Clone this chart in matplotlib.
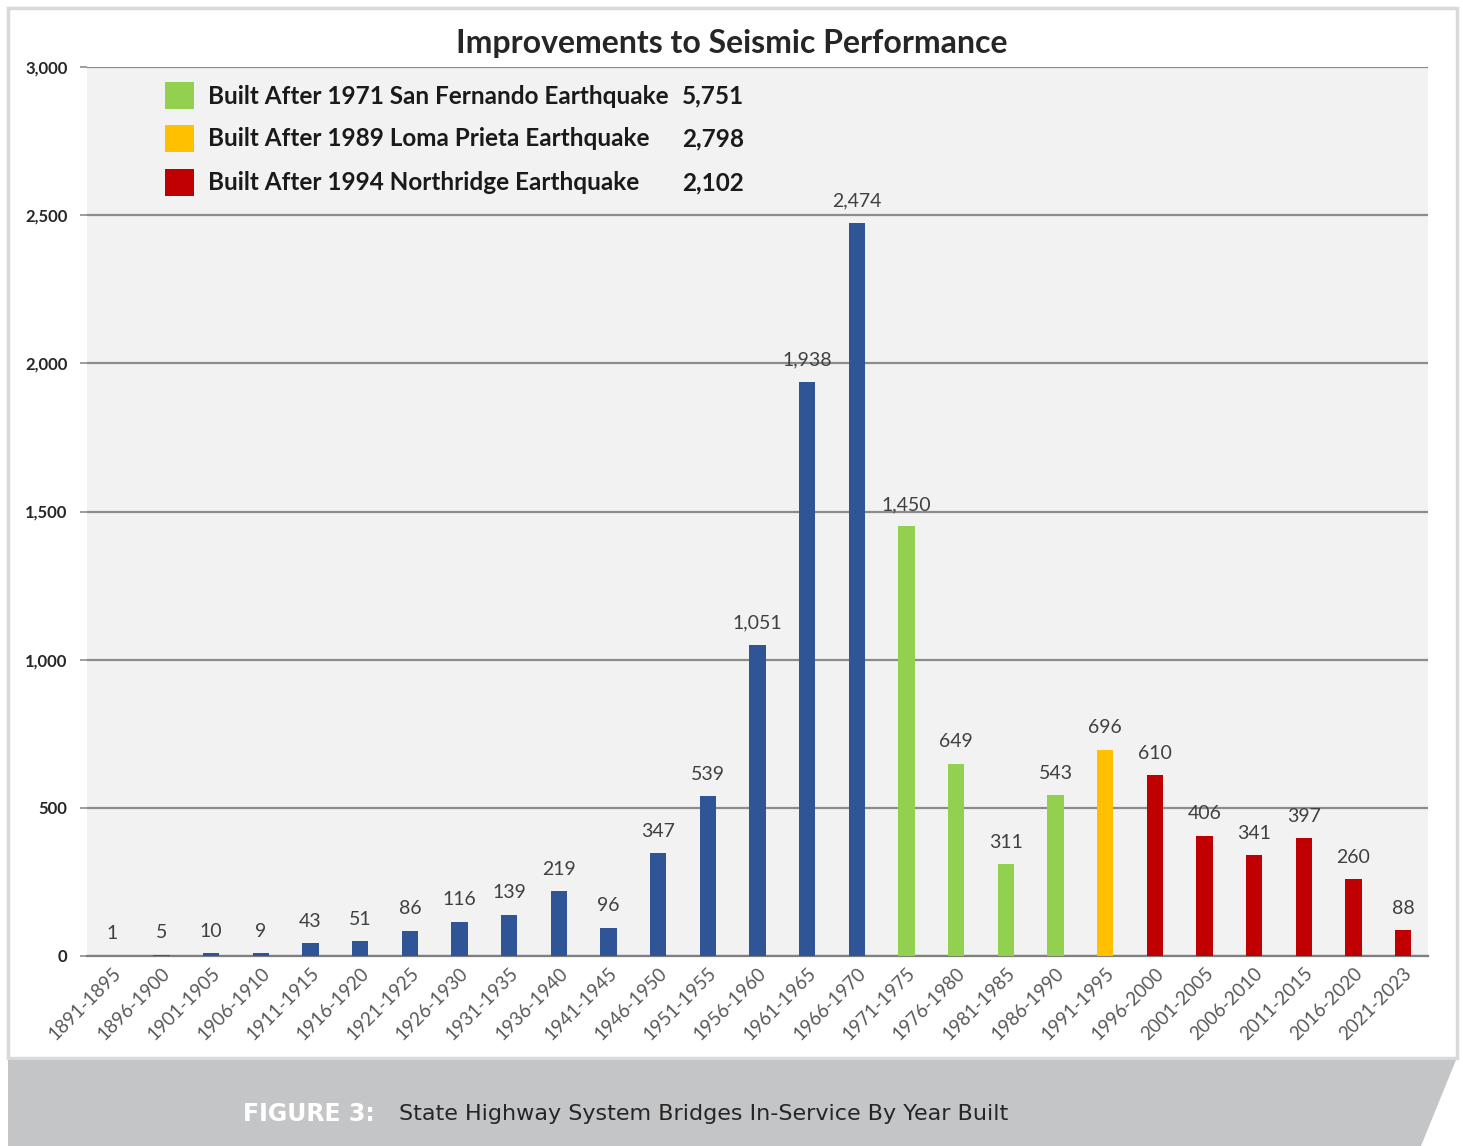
import matplotlib.pyplot as plt
from matplotlib.patches import Rectangle, Polygon

# Данные
periods = ['1891-1895', '1896-1900', '1901-1905', '1906-1910', '1911-1915', '1916-1920',
           '1921-1925', '1926-1930', '1931-1935', '1936-1940', '1941-1945', '1946-1950',
           '1951-1955', '1956-1960', '1961-1965', '1966-1970', '1971-1975', '1976-1980',
           '1981-1985', '1986-1990', '1991-1995', '1996-2000', '2001-2005', '2006-2010',
           '2011-2015', '2016-2020', '2021-2023']
bridges = [1, 5, 10, 9, 43, 51, 86, 116, 139, 219, 96, 347, 539, 1051, 1938, 2474,
           1450, 649, 311, 543, 696, 610, 406, 341, 397, 260, 88]
groups = ['pre'] * 16 + ['sf'] * 4 + ['lp'] + ['nr'] * 6

legend_labels = ['Built After 1971 San Fernando Earthquake',
                 'Built After 1989 Loma Prieta Earthquake',
                 'Built After 1994 Northridge Earthquake']
legend_totals = ['5,751', '2,798', '2,102']
legend_groups = ['sf', 'lp', 'nr']

colors = {'pre': '#2f5597', 'sf': '#92d050', 'lp': '#ffc000', 'nr': '#c00000'}

W, H = 1463, 1146
fig = plt.figure(figsize=(W / 100, H / 100), dpi=100)
fig.patch.set_facecolor('white')

# рамка и серая полоса с подписью
fig.patches.append(Rectangle((8 / W, 1 - 1058 / H), 1449 / W, 1050 / H, transform=fig.transFigure,
                             facecolor='white', edgecolor='#d9d9d9', linewidth=2.5, zorder=-2))
fig.patches.append(Polygon([(8 / W, 0), (8 / W, 1 - 1060 / H), (1456 / W, 1 - 1060 / H), (1421 / W, 0)],
                           closed=True, transform=fig.transFigure, facecolor='#c4c5c7',
                           edgecolor='none', zorder=-2))

ax = fig.add_axes([87 / W, 1 - 956 / H, 1341 / W, 889 / H])
ax.set_zorder(1)
ax.set_facecolor('#f2f2f2')

x = range(len(periods))
bar_colors = [colors[g] for g in groups]
bars = ax.bar(x, bridges, width=0.33, color=bar_colors, zorder=3)

for xi, v in zip(x, bridges):
    ax.text(xi, v + 45, f'{v:,}', ha='center', va='bottom', fontsize=14,
            color='#404040', family='Lato', zorder=4)

ax.set_xlim(-0.5, len(periods) - 0.5)
ax.set_ylim(0, 3000)
ax.set_yticks(range(0, 3001, 500))
ax.set_yticklabels([f'{t:,}' for t in range(0, 3001, 500)], fontsize=12, fontweight='bold',
                   color='#262626', family='Lato')
ax.yaxis.grid(True, color='#8c8c8c', linewidth=1.6, zorder=1)
ax.set_axisbelow(True)
for s in ['left', 'right', 'top']:
    ax.spines[s].set_visible(False)
ax.spines['bottom'].set_color('#7f7f7f')
ax.spines['bottom'].set_linewidth(1.6)
ax.tick_params(axis='y', length=5, color='#8c8c8c', width=1.2, pad=9)
ax.tick_params(axis='x', length=0, pad=6)
ax.set_xticks(list(x))
ax.set_xticklabels(periods, rotation=45, ha='right', rotation_mode='anchor',
                   fontsize=13.5, color='#595959', family='Lato')

# заголовок
fig.text(732 / W, 1 - 44 / H, 'Improvements to Seismic Performance', ha='center', va='center',
         fontsize=23, fontweight='bold', color='#262626', family='Lato')

# легенда
ys = [96, 139, 183]
for yy, lab, tot, g in zip(ys, legend_labels, legend_totals, legend_groups):
    fig.patches.append(Rectangle((165 / W, 1 - (yy + 13) / H), 29 / W, 27 / H,
                                 transform=fig.transFigure, facecolor=colors[g],
                                 edgecolor='none', zorder=5))
    fig.text(208 / W, 1 - yy / H, lab, ha='left', va='center', fontsize=17.5,
             fontweight='bold', color='#1a1a1a', family='Lato')
    fig.text(744 / W, 1 - yy / H, tot, ha='right', va='center', fontsize=17.5,
             fontweight='bold', color='#1a1a1a', family='Lato')

# подпись рисунка
fig.text(243 / W, 1 - 1114 / H, 'FIGURE 3:', ha='left', va='center', fontsize=17,
         fontweight='bold', color='white', family='DejaVu Sans')
fig.text(399 / W, 1 - 1114 / H, 'State Highway System Bridges In-Service By Year Built',
         ha='left', va='center', fontsize=16, color='#262626', family='DejaVu Sans')

fig.savefig('out.png', dpi=100)
